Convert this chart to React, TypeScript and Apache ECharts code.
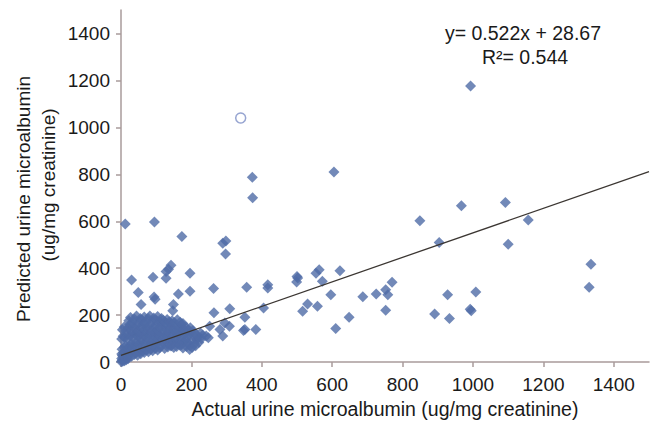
import React, { useEffect, useRef } from "react";
import * as echarts from "echarts";

const xTicks = [0, 200, 400, 600, 800, 1000, 1200, 1400];
const yTicks = [0, 200, 400, 600, 800, 1000, 1200, 1400];

const slope = 0.522;
const intercept = 28.67;
const regressionX = [0, 1500];
const equationText = "y= 0.522x + 28.67";
const r2Text = "R\u00B2= 0.544";
const xAxisTitle = "Actual urine microalbumin (ug/mg creatinine)";
const yAxisTitleLines = ["Predicted urine microalbumin", "(ug/mg creatinine)"];

// dense cluster of low values (actual, predicted)
const clusterPoints = [
  [1, 2], [3, 8], [5, 4], [8, 12], [2, 15], [10, 6], [12, 18], [6, 22], [15, 10], [18, 20], [4, 28], [14, 30], [20, 14],
  [2, 35], [7, 40], [11, 33], [16, 44], [22, 28], [25, 38], [30, 25], [34, 46], [38, 32], [42, 40], [47, 29], [52, 45],
  [56, 36], [61, 48], [66, 41], [72, 52], [78, 44], [84, 55], [90, 48], [97, 58], [104, 52], [110, 61],
  [3, 55], [9, 62], [13, 70], [19, 58], [24, 66], [28, 78], [33, 60], [37, 72], [43, 85], [46, 63], [51, 76], [57, 88],
  [62, 67], [68, 80], [73, 92], [79, 70], [85, 83], [91, 74], [96, 88], [102, 79], [108, 92], [114, 70], [119, 85],
  [125, 95], [131, 78], [137, 90], [143, 72], [148, 86], [154, 98], [160, 80], [166, 92], [172, 74], [178, 88],
  [184, 96], [190, 82], [196, 70], [203, 90], [209, 78], [215, 96], [221, 84], [228, 100],
  [124, 58], [133, 64], [142, 69], [150, 62], [158, 66], [168, 72], [176, 60], [186, 66], [195, 54], [202, 62], [212, 70],
  [2, 98], [6, 110], [11, 104], [17, 118], [21, 96], [26, 112], [31, 124], [36, 102], [40, 116], [45, 128], [49, 108],
  [54, 120], [59, 100], [64, 114], [69, 126], [74, 106], [80, 119], [86, 101], [91, 113], [95, 127], [100, 106],
  [106, 120], [111, 110], [117, 126], [122, 104], [128, 118], [134, 108], [140, 124], [146, 112], [152, 128],
  [157, 106], [163, 118], [169, 126], [175, 110], [181, 122], [187, 106], [193, 118], [199, 128], [206, 112],
  [213, 120], [219, 108], [226, 124], [232, 114],
  [4, 138], [9, 150], [14, 132], [20, 146], [25, 160], [30, 136], [35, 150], [41, 142], [46, 158], [51, 134], [57, 148],
  [62, 162], [67, 138], [73, 152], [78, 140], [83, 160], [89, 132], [94, 146], [99, 158], [105, 136], [110, 150],
  [116, 164], [121, 140], [127, 154], [132, 134], [138, 148], [143, 162], [149, 140], [155, 152], [161, 136],
  [166, 150], [172, 160], [178, 140], [184, 150], [190, 138], [197, 146], [204, 134],
  [22, 176], [27, 190], [33, 170], [38, 184], [44, 196], [50, 172], [55, 186], [60, 178], [66, 192], [71, 170],
  [77, 186], [82, 196], [88, 174], [93, 188], [99, 178], [104, 194], [110, 172], [115, 186], [120, 178], [126, 168],
  [131, 182], [137, 172], [145, 176], [152, 168], [160, 180], [168, 170], [176, 164],
];

// scattered points outside the cluster
const outlierPoints = [
  [12, 588], [95, 597], [173, 535], [289, 506], [298, 516], [297, 461], [142, 413], [135, 396], [128, 386],
  [128, 357], [30, 350], [91, 361], [196, 379], [49, 297], [94, 277], [163, 290], [196, 302], [263, 314],
  [357, 319], [57, 245], [97, 268], [149, 245], [147, 219], [264, 210], [309, 227], [352, 191], [352, 139],
  [383, 139], [248, 104], [281, 139], [295, 167], [252, 153], [242, 111], [289, 111], [308, 153],
  [373, 787], [374, 700], [605, 810], [849, 602], [563, 393], [554, 379], [622, 389], [500, 365], [417, 330],
  [417, 316], [502, 358], [499, 341], [572, 344], [596, 287], [405, 231], [348, 135], [516, 217], [530, 248],
  [558, 238], [610, 143], [648, 191], [687, 278], [725, 290], [752, 308], [758, 287], [770, 340], [752, 221],
  [967, 666], [1092, 680], [1157, 605], [904, 509], [1100, 502], [1335, 417], [1330, 319], [928, 287],
  [1008, 299], [891, 205], [933, 186], [992, 225], [995, 219], [993, 1176],
];

const hollowPoints = [[340, 1040]];

const FONT = "'Liberation Sans', Arial, sans-serif";
const AXIS_COLOR = "#a99b9b";
const POINT_COLOR = "#4f6ca6";
const TEXT_COLOR = "#1a1a1a";

function centeredText(text: string, x: number, y: number, fontSize: number, rotation = 0) {
  return {
    type: "text",
    x,
    y,
    rotation,
    style: {
      text,
      fontSize,
      fontFamily: FONT,
      fill: TEXT_COLOR,
      align: "center",
      verticalAlign: "middle",
      textAlign: "center",
      textVerticalAlign: "middle",
    },
  };
}

export default function App() {
  const ref = useRef<HTMLDivElement>(null);

  useEffect(() => {
    if (!ref.current) return;
    const chart = echarts.init(ref.current, undefined, { renderer: "svg" });
    const regressionData = regressionX.map((x) => [x, slope * x + intercept]);
    const axisCommon = {
      type: "value" as const,
      min: 0,
      max: 1500,
      interval: 200,
      splitLine: { show: false },
      axisLine: { show: true, lineStyle: { color: AXIS_COLOR, width: 1.5 } },
    };
    const labelStyle = {
      fontSize: 19,
      fontFamily: FONT,
      color: TEXT_COLOR,
      formatter: (v: number) => String(v),
    };
    chart.setOption({
      animation: false,
      backgroundColor: "#ffffff",
      grid: { left: 121, right: 2, top: 10, bottom: 60 },
      xAxis: {
        ...axisCommon,
        name: xAxisTitle,
        nameLocation: "middle",
        nameGap: 36,
        nameTextStyle: { fontSize: 19.5, fontFamily: FONT, color: TEXT_COLOR },
        axisTick: { show: true, length: 5, customValues: xTicks, lineStyle: { color: AXIS_COLOR, width: 1.5 } },
        axisLabel: { ...labelStyle, margin: 13, customValues: xTicks },
      },
      yAxis: {
        ...axisCommon,
        axisTick: { show: true, length: 5, customValues: yTicks, lineStyle: { color: AXIS_COLOR, width: 1.5 } },
        axisLabel: { ...labelStyle, margin: 11, customValues: yTicks },
      },
      graphic: [
        centeredText(yAxisTitleLines[0], 23, 199, 19, Math.PI / 2),
        centeredText(yAxisTitleLines[1], 48, 185, 19, Math.PI / 2),
        centeredText(equationText, 523, 33, 19.5),
        centeredText(r2Text, 525, 57, 19.5),
      ],
      series: [
        {
          type: "scatter",
          data: clusterPoints,
          symbol: "diamond",
          symbolSize: 11,
          itemStyle: { color: POINT_COLOR },
          z: 2,
        },
        {
          type: "scatter",
          data: outlierPoints,
          symbol: "diamond",
          symbolSize: 11,
          itemStyle: { color: POINT_COLOR },
          z: 2,
        },
        {
          type: "scatter",
          data: hollowPoints,
          symbol: "circle",
          symbolSize: 10,
          itemStyle: { color: "#ffffff", borderColor: "#7d8fc6", borderWidth: 1.5 },
          z: 2,
        },
        {
          type: "line",
          data: regressionData,
          symbol: "none",
          lineStyle: { color: "#3b3632", width: 1.3 },
          z: 3,
          silent: true,
        },
      ],
    });
    return () => chart.dispose();
  }, []);

  return (
    <div
      ref={ref}
      style={{ position: "fixed", left: 0, top: 0, width: 651, height: 424, background: "#fff" }}
    />
  );
}
